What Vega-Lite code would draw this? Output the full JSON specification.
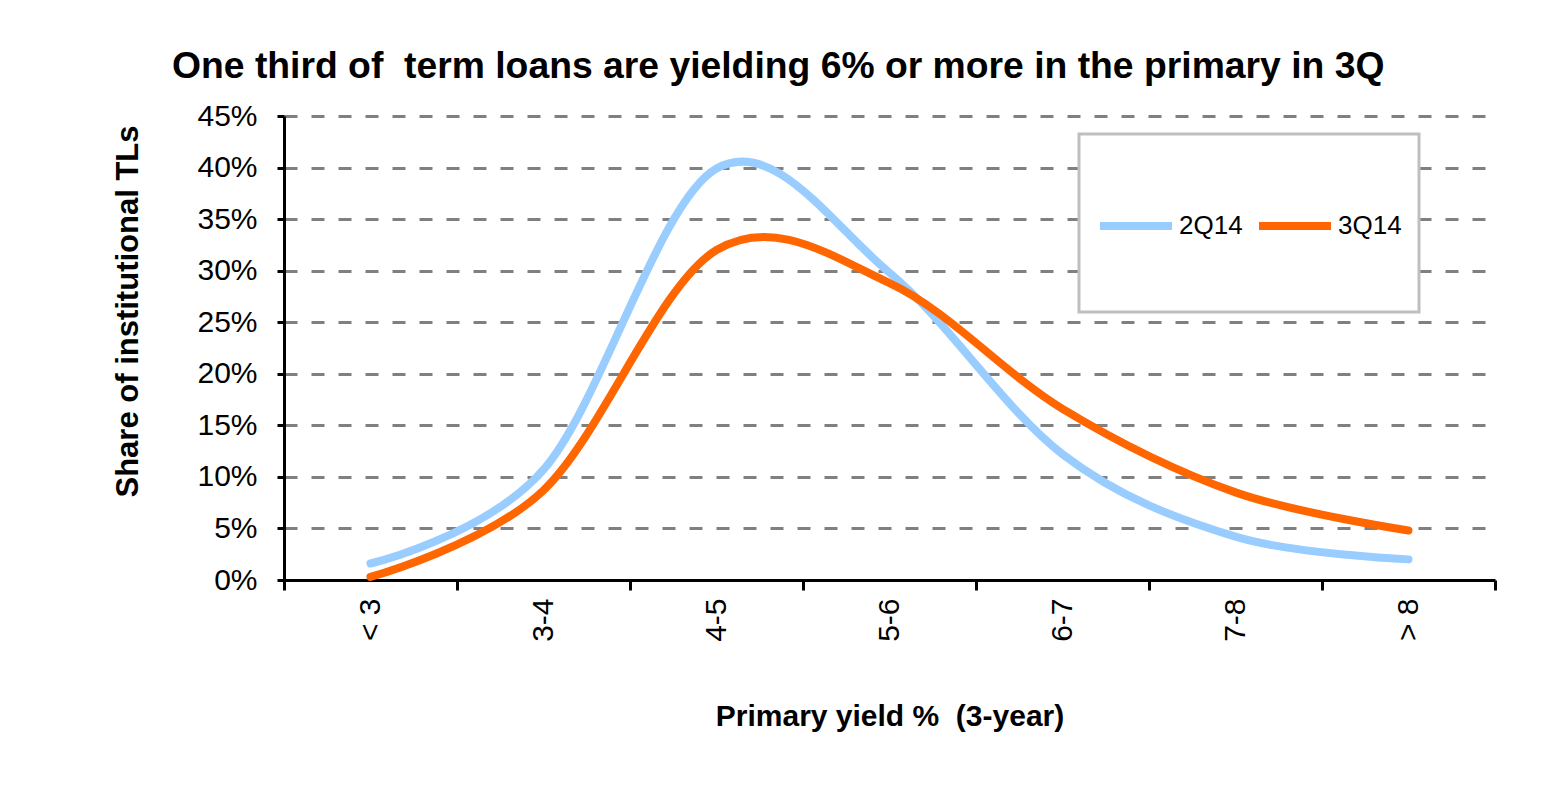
{
  "$schema": "https://vega.github.io/schema/vega-lite/v6.json",
  "background": "white",
  "autosize": {"type": "none"},
  "padding": {"left": 284, "top": 116, "right": 62, "bottom": 215},
  "width": 1211,
  "height": 464,
  "title": {
    "text": "One third of \u00a0term loans are yielding 6% or more in the primary in 3Q",
    "anchor": "start",
    "frame": "group",
    "dx": -112,
    "dy": 50,
    "offset": 36,
    "baseline": "alphabetic",
    "font": "Liberation Sans",
    "fontSize": 37.3,
    "fontWeight": "bold",
    "color": "black"
  },
  "data": {
    "values": [
      {"bucket": "< 3", "series": "2Q14", "share": 0.016},
      {"bucket": "3-4", "series": "2Q14", "share": 0.107},
      {"bucket": "4-5", "series": "2Q14", "share": 0.399},
      {"bucket": "5-6", "series": "2Q14", "share": 0.298},
      {"bucket": "6-7", "series": "2Q14", "share": 0.122},
      {"bucket": "7-8", "series": "2Q14", "share": 0.042},
      {"bucket": "> 8", "series": "2Q14", "share": 0.020},
      {"bucket": "< 3", "series": "3Q14", "share": 0.003},
      {"bucket": "3-4", "series": "3Q14", "share": 0.087},
      {"bucket": "4-5", "series": "3Q14", "share": 0.320},
      {"bucket": "5-6", "series": "3Q14", "share": 0.288},
      {"bucket": "6-7", "series": "3Q14", "share": 0.166},
      {"bucket": "7-8", "series": "3Q14", "share": 0.085},
      {"bucket": "> 8", "series": "3Q14", "share": 0.048}
    ]
  },
  "mark": {
    "type": "line",
    "interpolate": "cardinal",
    "tension": 0,
    "strokeWidth": 8,
    "strokeCap": "round"
  },
  "encoding": {
    "x": {
      "field": "bucket",
      "type": "ordinal",
      "sort": null,
      "scale": {"type": "band", "paddingInner": 0, "paddingOuter": 0},
      "axis": {
        "title": "Primary yield % \u00a0(3-year)",
        "labelAngle": -90,
        "tickBand": "extent",
        "tickSize": 10,
        "labelPadding": 8,
        "grid": false,
        "titleY": 145,
        "titleBaseline": "alphabetic"
      }
    },
    "y": {
      "field": "share",
      "type": "quantitative",
      "scale": {"domain": [0, 0.45], "nice": false},
      "axis": {
        "title": "Share of institutional TLs",
        "format": ".0%",
        "values": [0, 0.05, 0.1, 0.15, 0.2, 0.25, 0.3, 0.35, 0.4, 0.45],
        "tickSize": 7,
        "labelPadding": 20,
        "grid": true,
        "gridColor": "#808080",
        "gridWidth": 3,
        "gridDash": [13, 14],
        "titleX": -147,
        "titleY": 195,
        "titleBaseline": "alphabetic",
        "titleFontSize": 31
      }
    },
    "color": {
      "field": "series",
      "type": "nominal",
      "scale": {"domain": ["2Q14", "3Q14"], "range": ["#99CCFF", "#FF6600"]},
      "legend": {
        "title": "\u00a0",
        "titleFontSize": 10,
        "titlePadding": 25,
        "orient": "none",
        "legendX": 795,
        "legendY": 18,
        "direction": "horizontal",
        "symbolType": "stroke",
        "symbolSize": 5184,
        "symbolStrokeWidth": 8,
        "labelFontSize": 26,
        "labelOffset": 3,
        "columnPadding": 0,
        "padding": 17,
        "labelExpr": "[datum.label, '\u00a0', '\u00a0']",
        "strokeColor": "#BFBFBF",
        "fillColor": "white"
      }
    }
  },
  "config": {
    "font": "Liberation Sans",
    "view": {"stroke": null},
    "axis": {
      "labelFont": "Liberation Sans",
      "labelFontSize": 30,
      "labelColor": "black",
      "titleFont": "Liberation Sans",
      "titleFontSize": 30,
      "titleFontWeight": "bold",
      "titleColor": "black",
      "domainColor": "black",
      "domainWidth": 3,
      "tickColor": "black",
      "tickWidth": 3
    },
    "legend": {
      "labelFont": "Liberation Sans",
      "labelColor": "black",
      "strokeWidth": 3
    }
  }
}
